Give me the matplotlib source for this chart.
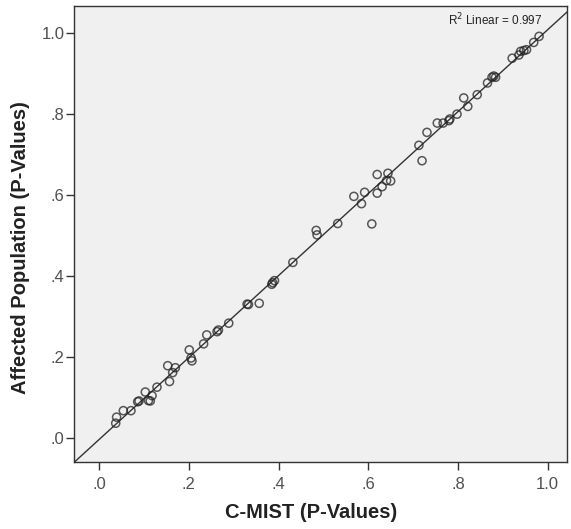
import numpy as np
import matplotlib
matplotlib.use("Agg")
import matplotlib.pyplot as plt

plt.rcParams['font.family'] = ['Liberation Sans', 'DejaVu Sans']

# C-MIST p-values (x) and Affected Population p-values (y)
cmist = [0.037, 0.039, 0.054, 0.071, 0.086, 0.089, 0.103, 0.110, 0.114, 0.118,
         0.129, 0.153, 0.157, 0.164, 0.170, 0.201, 0.205, 0.207, 0.233, 0.240,
         0.263, 0.266, 0.289, 0.330, 0.333, 0.357, 0.385, 0.387, 0.391, 0.432,
         0.484, 0.486, 0.532, 0.568, 0.585, 0.592, 0.608, 0.620, 0.620, 0.631,
         0.641, 0.644, 0.650, 0.713, 0.720, 0.731, 0.754, 0.767, 0.780, 0.782,
         0.798, 0.813, 0.822, 0.843, 0.866, 0.876, 0.880, 0.884, 0.921, 0.936,
         0.940, 0.947, 0.953, 0.969, 0.981]
affected = [0.037, 0.052, 0.068, 0.068, 0.090, 0.092, 0.114, 0.093, 0.092, 0.105,
            0.126, 0.179, 0.140, 0.162, 0.174, 0.218, 0.198, 0.191, 0.233, 0.255,
            0.263, 0.267, 0.284, 0.331, 0.330, 0.333, 0.380, 0.384, 0.389, 0.434,
            0.513, 0.502, 0.530, 0.597, 0.579, 0.607, 0.529, 0.605, 0.651, 0.621,
            0.636, 0.654, 0.635, 0.723, 0.685, 0.755, 0.778, 0.778, 0.784, 0.788,
            0.800, 0.840, 0.819, 0.848, 0.877, 0.891, 0.894, 0.891, 0.938, 0.946,
            0.955, 0.957, 0.959, 0.977, 0.992]
tick_vals = [0.0, 0.2, 0.4, 0.6, 0.8, 1.0]
tick_labels = ['.0', '.2', '.4', '.6', '.8', '1.0']
r2_text = 'R$^2$ Linear = 0.997'
xlabel = 'C-MIST (P-Values)'
ylabel = 'Affected Population (P-Values)'

fig = plt.figure(figsize=(5.71, 5.29), dpi=100)
ax = fig.add_axes([0.1296, 0.1272, 0.8640, 0.8615])
ax.set_facecolor('#f0f0f0')

xlim = (-0.056, 1.044)
ylim = (-0.058, 1.067)
ax.set_xlim(*xlim)
ax.set_ylim(*ylim)

x = np.array(cmist)
y = np.array(affected)
b, a = np.polyfit(x, y, 1)
xs = np.array(xlim)
ax.plot(xs, a + b * xs, color='#333333', lw=1.0, zorder=2)

ax.scatter(x, y, s=34, facecolors='none', edgecolors='#222222', linewidths=1.1,
           alpha=0.75, zorder=3)

ax.text(0.95, 0.988, r2_text, transform=ax.transAxes, ha='right', va='top',
        fontsize=8.5, color='#222222')

ax.set_xticks(tick_vals)
ax.set_xticklabels(tick_labels)
ax.set_yticks(tick_vals)
ax.set_yticklabels(tick_labels)
ax.tick_params(direction='out', length=6, width=1, color='#333333',
               labelsize=12, labelcolor='#505050')
ax.tick_params(axis='x', pad=5)
ax.tick_params(axis='y', pad=1)

for s in ax.spines.values():
    s.set_color('#333333')
    s.set_linewidth(1.0)

ax.set_xlabel(xlabel, fontsize=14.5, fontweight='bold', color='#222222')
ax.xaxis.set_label_coords(0.48, -0.09)
ax.set_ylabel(ylabel, fontsize=14.5, fontweight='bold', color='#222222')
ax.yaxis.set_label_coords(-0.089, 0.47)

fig.savefig('out.png', dpi=100)
